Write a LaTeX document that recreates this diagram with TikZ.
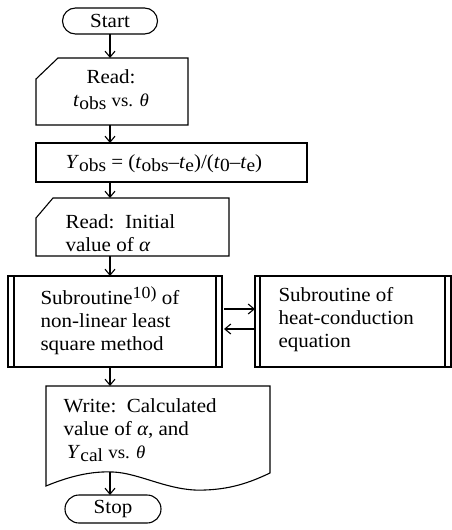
\documentclass[tikz,border=0pt]{standalone}
\usepackage{fontspec}
\setmainfont{Liberation Serif}[FakeStretch=1.05]
\usetikzlibrary{shapes.misc,arrows.meta,calc}
\newcommand\lo[1]{\raisebox{-0.4ex}{\fontsize{18.5}{18.5}\selectfont #1}}
\newcommand\hi[1]{\raisebox{0.65ex}{\fontsize{17}{17}\selectfont #1}}
\newcommand\sm[1]{{\fontsize{18}{18}\selectfont #1}}
\tikzset{
  shp/.style={draw=none, inner sep=0pt, outer sep=0pt},
  box/.style={draw, inner sep=0pt, outer sep=0pt},
  term/.style={draw, rounded rectangle, inner sep=0pt, outer sep=0pt},
  txt/.style={inner sep=0pt, anchor=base west, align=left},
  arr/.style={-{Straight Barb[length=6pt,width=10pt]}},
}
\begin{document}
\begin{tikzpicture}[x=1pt,y=-1pt,line width=1.1pt,font=\fontsize{20}{23}\selectfont]
\useasboundingbox (0,0) rectangle (452,530);

% Start
\node[term, minimum width=95pt, minimum height=26pt] (start) at (110,21) {Start};

% Read 1 (card)
\node[shp, minimum width=152pt, minimum height=67pt] (read1) at (112,91.5) {};
\draw ($(read1.north west)+(22,0)$) -- (read1.north east) -- (read1.south east)
  -- (read1.south west) -- ($(read1.north west)+(0,21)$) -- cycle;
\node[txt, anchor=base, align=center] (read1t) at (111,106)
  {Read:\\\textit{t}\lo{obs} \sm{vs. \textit{θ}}};

% Y_obs
\node[box, minimum width=271pt, minimum height=39pt] (yobs) at (171.5,162.5) {};
\node[txt] (yobst) at (65,168)
  {\textit{Y}\lo{obs} = (\textit{t}\lo{obs}–\textit{t}\lo{e})/(\textit{t}\lo{0}–\textit{t}\lo{e})};

% Read 2 (card)
\node[shp, minimum width=193pt, minimum height=58pt] (read2) at (132.5,227) {};
\draw ($(read2.north west)+(17,0)$) -- (read2.north east) -- (read2.south east)
  -- (read2.south west) -- ($(read2.north west)+(0,20)$) -- cycle;
\node[txt] (read2t) at (65,251) {Read:\ \ Initial\\value of \textit{α}};

% Subroutine 1
\node[box, minimum width=214pt, minimum height=91pt] (sub1) at (115,321.5) {};
\draw ($(sub1.north west)+(6,0)$) -- ($(sub1.south west)+(6,0)$);
\draw ($(sub1.north east)+(-6,0)$) -- ($(sub1.south east)+(-6,0)$);
\node[txt] (sub1t) at (40,350) {Subroutine\hi{10)} of\\non-linear least\\square method};

% Subroutine 2
\node[box, minimum width=196pt, minimum height=91pt] (sub2) at (353,321.5) {};
\draw ($(sub2.north west)+(5,0)$) -- ($(sub2.south west)+(5,0)$);
\draw ($(sub2.north east)+(-6,0)$) -- ($(sub2.south east)+(-6,0)$);
\node[txt] (sub2t) at (278,347) {Subroutine of\\heat-conduction\\equation};

% Write (document)
\node[shp, minimum width=224pt, minimum height=100pt] (write) at (158,436) {};
\draw (write.north west) -- (write.south west)
  .. controls (70,476) and (92,471) .. (113,472)
  .. controls (140,473) and (170,492) .. (205,490)
  .. controls (235,489) and (255,480) .. (270,473)
  -- (write.north east) -- cycle;
\node[txt] (writet) at (63,458)
  {Write:\ \ Calculated\\value of \textit{α}, and\\\,\textit{Y}\lo{cal} \sm{vs. \textit{θ}}};
\coordinate (wavetop) at (110,472);

% Stop
\node[term, minimum width=96pt, minimum height=28pt] (stop) at (113,509) {Stop};

% connectors
\draw[arr] (start.south) -- (start.south |- read1.north);
\draw[arr] (read1.south -| start.south) -- (yobs.north -| start.south);
\draw[arr] (yobs.south -| start.south) -- (read2.north -| start.south);
\draw[arr] (read2.south -| start.south) -- (sub1.north -| start.south);
\draw[arr] (sub1.south -| start.south) -- (write.north -| start.south);
\draw[arr] (wavetop) -- (stop.north -| wavetop);
\draw[arr] ($(sub1.east)+(2,-12.5)$) -- ($(sub2.west)+(0,-12.5)$);
\draw[arr] ($(sub2.west)+(-1,7.5)$) -- ($(sub1.east)+(2,7.5)$);
\end{tikzpicture}
\end{document}
